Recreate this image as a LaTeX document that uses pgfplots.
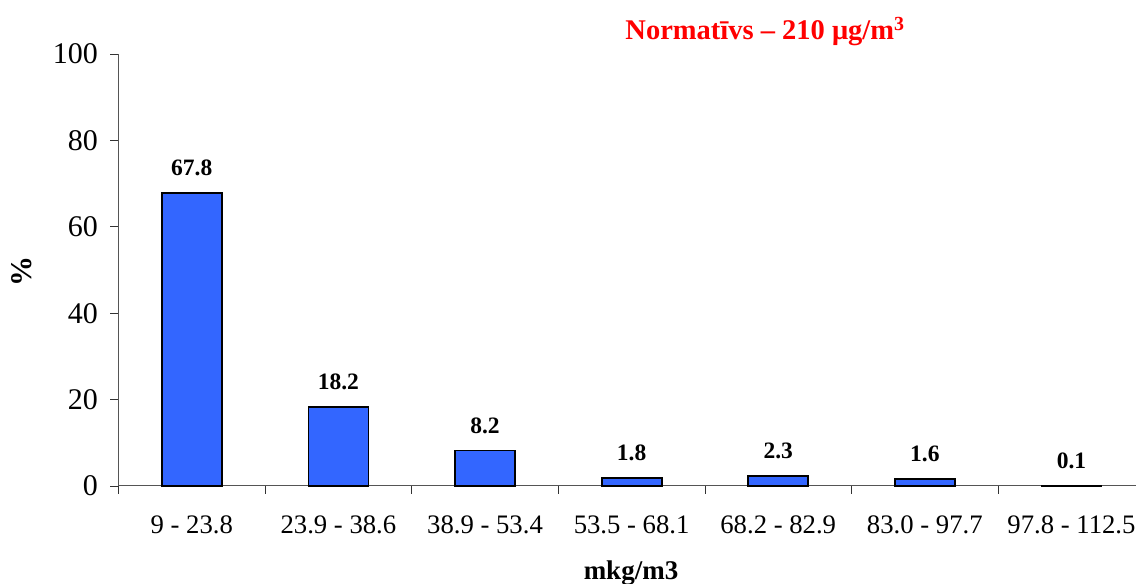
\documentclass[border=0pt]{standalone}
\usepackage{pgfplots}
\pgfplotsset{compat=1.18}
\usepackage{fontspec}
\setmainfont{Liberation Serif}
\definecolor{barblue}{HTML}{3366FF}
\definecolor{axgray}{HTML}{555555}
\begin{document}
\begin{tikzpicture}[x=1pt,y=1pt]
\begin{axis}[
  at={(118.5pt,98pt)}, anchor=south west,
  scale only axis, width=1017.5pt, height=432pt,
  xmin=-0.5, xmax=6.44, ymin=0, ymax=100,
  axis lines*=left,
  axis line style={draw=axgray, line width=1pt},
  xtick={0,1,2,3,4,5,6},
  xticklabels={9 - 23.8,23.9 - 38.6,38.9 - 53.4,53.5 - 68.1,68.2 - 82.9,83.0 - 97.7,97.8 - 112.5},
  major x tick style={draw=none},
  minor xtick={-0.5,0.5,1.5,2.5,3.5,4.5,5.5},
  minor tick length=8pt,
  minor x tick style={draw=black!80, line width=0.8pt},
  ytick={0,20,40,60,80,100},
  major tick length=8pt,
  major y tick style={draw=black!80, line width=0.8pt},
  tick align=outside,
  /pgf/number format/assume math mode=true,
  x tick label style={font=\fontsize{26.7}{30}\selectfont, yshift=-18pt},
  y tick label style={font=\fontsize{30}{33}\selectfont, xshift=-9pt},
  ybar, bar width=60pt,
  nodes near coords,
  nodes near coords style={font=\bfseries\fontsize{23.5}{26}\selectfont, yshift=13pt},
  point meta=explicit symbolic,
  clip=false,
]
\addplot[fill=barblue, draw=black, line width=1.8pt] coordinates {
  (0,67.8) [67.8] (1,18.2) [18.2] (2,8.2) [8.2] (3,1.8) [1.8] (4,2.3) [2.3] (5,1.6) [1.6] (6,0.1) [0.1]
};
\end{axis}
\node[font=\bfseries\fontsize{28.5}{32}\selectfont, text=red] at (765pt,552pt) {Normatīvs – 210 μg/m\textsuperscript{3}};
\node[font=\bfseries\fontsize{30}{33}\selectfont, rotate=90] at (22pt,312pt) {\%};
\node[font=\bfseries\fontsize{27}{30}\selectfont, anchor=base] at (631pt,4pt) {mkg/m3};
\pgfresetboundingbox
\path[use as bounding box] (0,0) rectangle (1136pt,584pt);
\end{tikzpicture}
\end{document}
